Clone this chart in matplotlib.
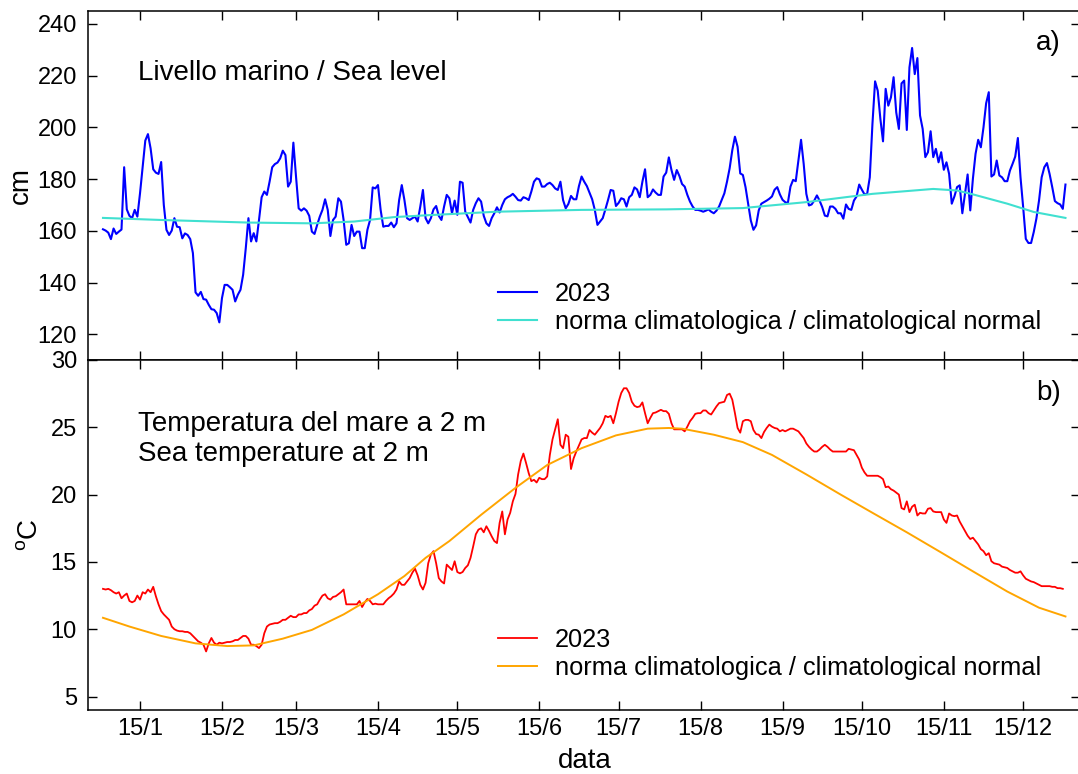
import numpy as np
import matplotlib
matplotlib.use('Agg')
import matplotlib.pyplot as plt

plt.rcParams['font.family'] = ['Liberation Sans', 'DejaVu Sans']
plt.rcParams['mathtext.fontset'] = 'custom'
plt.rcParams['mathtext.rm'] = 'Liberation Sans'

# ---------------- data ----------------
# daily sea level 2023 (cm), day 1 = 1 Jan
sea_level_2023 = [
    160.6, 160.1, 159.3, 156.8, 160.9, 158.8, 159.7, 160.5, 184.6, 168.3,
    165.8, 164.9, 168.1, 165.5, 174.5, 184.8, 194.9, 197.4, 191.9, 183.8,
    182.5, 182.0, 186.6, 170.0, 160.4, 158.4, 160.1, 164.9, 161.6, 161.4,
    157.1, 159.0, 158.4, 156.8, 151.4, 136.2, 134.9, 136.4, 133.6, 133.4,
    131.4, 129.7, 129.5, 128.2, 124.6, 134.0, 139.1, 139.1, 138.2, 137.2,
    132.7, 135.3, 137.2, 143.0, 153.3, 164.9, 155.9, 159.1, 155.9, 164.2,
    173.0, 175.2, 173.9, 179.0, 184.6, 185.8, 186.4, 188.0, 191.0, 189.3,
    177.1, 179.0, 194.1, 181.0, 168.7, 167.8, 168.7, 167.8, 165.8, 159.7,
    158.8, 162.3, 165.5, 168.1, 172.2, 168.1, 158.0, 164.2, 165.5, 172.6,
    171.3, 164.2, 154.6, 155.2, 162.3, 158.0, 159.7, 159.7, 153.3, 153.3,
    160.4, 164.2, 176.8, 176.4, 177.7, 168.1, 161.6, 161.9, 161.9, 163.2,
    161.4, 162.9, 171.9, 177.7, 171.9, 164.9, 164.2, 164.9, 165.5, 163.6,
    169.4, 175.8,
    164.9, 162.9, 164.9, 168.3, 169.6, 165.8, 164.2, 169.4, 173.9, 172.6,
    166.8, 171.7, 166.2, 179.0, 178.6, 167.4, 165.3, 163.2, 168.1, 170.7,
    172.6, 171.3, 165.8, 162.9, 161.9, 164.9, 166.8, 169.1, 167.1, 170.0,
    172.2, 173.0, 173.5, 174.3, 173.2, 171.9, 171.7, 173.0, 172.6, 171.9,
    175.2, 179.0, 180.3, 179.9, 177.1, 177.1, 178.1, 178.6, 177.7, 176.4,
    175.8, 179.0, 171.9, 168.7, 170.4, 173.5, 172.2, 172.2, 177.3, 181.0,
    179.0, 177.3, 174.8, 172.2, 168.1, 162.3, 163.6, 164.9, 168.3, 171.9,
    175.8, 175.5, 169.6, 170.8, 172.6, 172.2, 169.4, 173.0, 173.9, 176.8,
    176.0, 173.0, 179.0, 183.8, 173.0, 173.9, 176.0, 174.8, 173.9, 173.9,
    181.0, 182.5, 188.4, 183.5, 179.7, 183.5, 181.2, 178.1, 177.1, 173.9,
    171.3, 169.4, 168.1, 168.1, 167.8, 167.4, 167.8, 168.3, 167.4, 166.8,
    167.8, 169.4, 171.9, 174.5, 179.0, 184.2, 191.2, 196.4, 192.5, 182.2,
    181.6,
    176.9, 170.5, 164.0, 160.4, 162.1, 167.9, 170.5, 171.1, 171.7, 172.4,
    173.3, 175.9, 176.9, 174.1, 172.0, 171.1, 170.7, 177.1, 179.7, 179.2,
    187.2, 195.2, 185.9, 174.3, 169.8, 170.2, 171.7, 173.7, 171.7, 169.2,
    165.9, 165.6, 169.4, 169.4, 168.5, 166.8, 166.8, 164.7, 170.2, 168.5,
    168.1, 171.7, 173.3, 177.9, 175.9, 174.1, 174.3, 180.7, 201.3, 217.8,
    214.2, 203.3, 194.6, 214.9, 208.4, 211.6, 219.4, 205.8, 199.4, 217.0,
    218.1, 199.0, 223.2, 230.7, 220.6, 226.8, 204.6, 199.4, 188.5, 190.4,
    198.5, 188.5, 191.7, 186.5, 190.4, 183.6, 186.5, 182.0, 170.5, 173.3,
    176.9, 177.6, 166.8, 174.3, 181.8, 167.9, 180.2, 189.8, 195.2, 192.3,
    200.0, 209.3, 213.6, 181.0, 181.8, 187.2, 181.4, 180.7, 179.2, 179.2,
    183.3, 185.9, 188.7, 195.9, 180.7, 169.2, 156.9, 155.3, 155.3, 159.5,
    164.7, 171.7, 180.7, 184.6, 186.2, 182.0, 176.9, 171.5, 170.7, 170.2,
    168.5, 177.9,
]

# climatological normal of sea level (cm) at selected days
sea_norm_day = [1, 23, 56, 80, 96, 111, 123, 150, 182, 214, 243, 267, 292,
                315, 324, 330, 343, 353, 365]
sea_norm_cm = [165.0, 164.2, 163.2, 162.9, 163.6, 165.3, 166.0, 167.4, 168.1,
               168.3, 168.8, 171.1, 174.3, 176.2, 175.6, 174.1, 170.5, 167.3,
               165.0]

# daily sea temperature at 2 m, 2023 (deg C)
temp_2023 = [
    13.0, 12.95, 13.0, 12.9, 12.75, 12.65, 12.75, 12.3, 12.5, 12.65,
    12.1, 12.0, 12.1, 12.5, 12.2, 12.75, 12.65, 12.95, 12.75, 13.15,
    12.45, 11.85, 11.35, 11.1, 10.9, 10.7, 10.2, 10.0, 9.9, 9.85,
    9.85, 9.8, 9.8, 9.7, 9.5, 9.3, 9.1, 9.0, 8.85, 8.35,
    8.95, 9.35, 9.0, 8.85, 9.0, 8.95, 9.0, 9.05, 9.05, 9.1,
    9.2, 9.2, 9.35, 9.5, 9.5, 9.3, 8.85, 8.85, 8.75, 8.6,
    8.85, 9.7, 10.2, 10.35, 10.4, 10.45, 10.45, 10.55, 10.7, 10.7,
    10.85, 11.0, 10.9, 10.9, 11.1, 11.1, 11.2, 11.2, 11.4, 11.5,
    11.75, 11.85, 12.2, 12.5, 12.6, 12.3, 12.2, 12.4, 12.45, 12.6,
    12.75, 12.95, 11.85, 11.85, 11.85, 11.85, 11.85, 12.1, 11.65, 12.0,
    12.25, 12.1, 11.85, 11.9, 11.85, 11.85, 11.85, 12.1, 12.3, 12.45,
    12.65, 12.95, 13.55, 13.3, 13.3, 13.55, 13.8, 14.2, 14.5, 14.0,
    13.3, 12.95,
    13.45, 14.9, 15.55, 15.8, 14.9, 13.8, 13.55, 13.4, 14.8, 14.6,
    14.4, 15.05, 14.25, 14.15, 14.25, 14.55, 14.75, 15.3, 16.15, 17.05,
    17.4, 17.5, 17.2, 17.65, 17.3, 16.9, 16.55, 16.4, 17.9, 18.75,
    17.05, 18.15, 18.65, 19.5, 20.05, 21.5, 22.5, 23.05, 22.35, 21.6,
    21.0, 21.1, 20.9, 21.25, 21.15, 21.15, 21.35, 22.95, 24.1, 24.85,
    25.6, 23.7, 23.45, 24.45, 24.3, 21.9, 22.7, 23.2, 23.65, 24.1,
    24.2, 24.2, 24.8, 24.6, 24.45, 24.7, 24.95, 25.3, 25.85, 25.75,
    25.85, 25.3, 26.05, 26.9, 27.55, 27.9, 27.9, 27.55, 26.9, 26.6,
    26.5, 26.55, 26.85, 26.05, 25.3, 25.7, 26.05, 26.1, 26.2, 26.3,
    26.2, 26.2, 26.0, 25.3, 24.85, 24.85, 24.85, 24.85, 24.7, 25.05,
    25.45, 25.7, 26.0, 26.05, 26.05, 26.25, 26.25, 26.05, 25.95, 26.25,
    26.55, 26.8, 26.85, 26.9, 27.4, 27.5, 27.05, 26.05, 24.95, 24.6,
    25.45, 25.55, 25.55, 25.45, 24.8, 24.5, 24.45, 24.2, 24.65, 24.95,
    25.2, 25.05, 24.95, 24.9, 24.7, 24.8, 24.7, 24.8, 24.9, 24.9,
    24.8, 24.7, 24.45, 24.2, 23.8, 23.55, 23.35, 23.2, 23.2, 23.35,
    23.55, 23.7, 23.55, 23.35, 23.2, 23.2, 23.2, 23.2, 23.2, 23.2,
    23.4, 23.35, 23.3, 22.95, 22.6, 22.0, 21.65, 21.4, 21.4, 21.4,
    21.4, 21.4, 21.3, 21.15, 20.55, 20.6, 20.4, 20.3, 20.15, 20.0,
    19.0, 18.9, 19.5, 18.7, 19.1, 19.25, 18.45, 18.65, 18.6, 18.6,
    18.95, 19.0, 18.75, 18.7, 18.7, 18.7, 18.15, 17.9, 18.6, 18.45,
    18.4, 18.45, 18.0, 17.65, 17.3, 16.95, 16.7, 16.8, 16.55, 16.3,
    15.95, 15.8, 15.5, 15.65, 15.05, 14.9, 14.85, 14.8, 14.65, 14.6,
    14.55, 14.4, 14.3, 14.2, 14.2, 14.3, 14.0, 13.75, 13.65, 13.55,
    13.5, 13.4, 13.3, 13.2, 13.2, 13.2, 13.2, 13.15, 13.15, 13.05,
    13.05, 13.0,
]

# climatological normal of sea temperature (deg C) at selected days
temp_norm_day = [1, 11, 23, 36, 48, 58, 69, 80, 92, 105, 115, 123, 132, 144,
                 157, 169, 182, 195, 207, 215, 220, 232, 243, 254, 267, 280,
                 292, 305, 318, 330, 343, 355, 365]
temp_norm_c = [10.85, 10.2, 9.5, 8.95, 8.75, 8.8, 9.3, 9.95, 11.1, 12.6,
               13.95, 15.3, 16.55, 18.5, 20.5, 22.2, 23.45, 24.4, 24.9, 24.95,
               24.9, 24.45, 23.9, 22.95, 21.5, 20.0, 18.65, 17.2, 15.7, 14.3,
               12.8, 11.6, 10.95]

# x ticks: 15th of each month (day of year, 2023)
tick_days = [15, 46, 74, 105, 135, 166, 196, 227, 258, 288, 319, 349]
tick_labels = ['15/1', '15/2', '15/3', '15/4', '15/5', '15/6',
               '15/7', '15/8', '15/9', '15/10', '15/11', '15/12']

sea_ticks = [120, 140, 160, 180, 200, 220, 240]
temp_ticks = [5, 10, 15, 20, 25, 30]

# ---------------- figure ----------------
W, H = 1078, 774
fig = plt.figure(figsize=(W / 100, H / 100), dpi=100)
L = 88 / W
R = 1080 / W
ax1 = fig.add_axes([L, 1 - 360 / H, R - L, (360 - 11) / H])
ax2 = fig.add_axes([L, 1 - 710 / H, R - L, (710 - 360) / H])

days_sea = np.arange(1, len(sea_level_2023) + 1)
days_temp = np.arange(1, len(temp_2023) + 1)

l1, = ax1.plot(days_sea, sea_level_2023, color='#0000FF', lw=1.5)
l2, = ax1.plot(sea_norm_day, sea_norm_cm, color='#40E0D0', lw=1.5)
l3, = ax2.plot(days_temp, temp_2023, color='#FF0000', lw=1.3)
l4, = ax2.plot(temp_norm_day, temp_norm_c, color='#FFA500', lw=1.4)

xlim = (-4.67, 370.5)
for ax in (ax1, ax2):
    ax.set_xlim(*xlim)
    ax.set_xticks(tick_days)
    ax.tick_params(axis='both', direction='in', length=6.5, width=1.0,
                   top=True, right=True, labelsize=17, colors='black')
    ax.tick_params(axis='y', pad=8)
    ax.tick_params(axis='x', pad=6)
    for s in ax.spines.values():
        s.set_linewidth(1.1)

ax1.set_ylim(110.06, 245.0)
ax1.set_yticks(sea_ticks)
ax1.tick_params(axis='x', labelbottom=False)

ax2.set_ylim(4.0, 30.0)
ax2.set_yticks(temp_ticks)
ax2.set_xticklabels(tick_labels)

TXT = 20
fig.text(138 / W, 1 - 80 / H, 'Livello marino / Sea level', fontsize=TXT,
         ha='left', va='baseline')
fig.text(138 / W, 1 - 431 / H, 'Temperatura del mare a 2 m', fontsize=TXT,
         ha='left', va='baseline')
fig.text(138 / W, 1 - 461 / H, 'Sea temperature at 2 m', fontsize=TXT,
         ha='left', va='baseline')
fig.text(1061 / W, 1 - 50 / H, 'a)', fontsize=TXT, ha='right', va='baseline')
fig.text(1061 / W, 1 - 400 / H, 'b)', fontsize=TXT, ha='right', va='baseline')

fig.text(21 / W, 1 - 185 / H, 'cm', fontsize=TXT, rotation=90,
         ha='center', va='center')
fig.text(31 / W, 1 - 535 / H, r'$^{\mathrm{o}}$C', fontsize=TXT, rotation=90,
         ha='center', va='center')
fig.text(585 / W, 1 - 768 / H, 'data', fontsize=TXT, ha='center',
         va='baseline')

LEG = 18.3
leg_kw = dict(frameon=False, fontsize=LEG, handlelength=1.55,
              handletextpad=0.7, labelspacing=0.17, borderpad=0.0,
              borderaxespad=0.0, loc='upper left',
              bbox_transform=fig.transFigure)
ax1.legend([l1, l2], ['2023', 'norma climatologica / climatological normal'],
           bbox_to_anchor=(498 / W, 1 - 282 / H), **leg_kw)
ax2.legend([l3, l4], ['2023', 'norma climatologica / climatological normal'],
           bbox_to_anchor=(498 / W, 1 - 628 / H), **leg_kw)

fig.savefig('out.png', dpi=100)
